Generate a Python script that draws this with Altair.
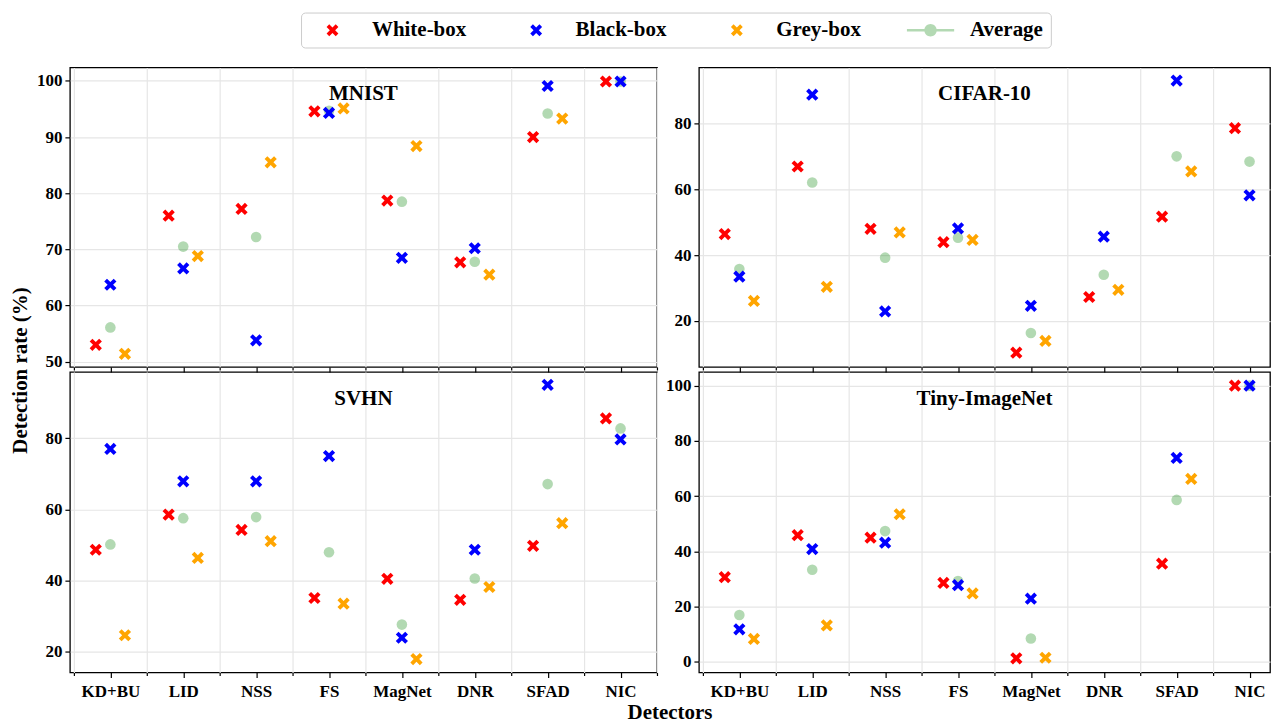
import altair as alt
import pandas as pd

detectors = ["KD+BU", "LID", "NSS", "FS", "MagNet", "DNR", "SFAD", "NIC"]
types = ["White-box", "Black-box", "Grey-box"]

mnist_white = [53.0, 76.0, 77.2, 94.6, 78.7, 67.7, 90.0, 99.9]
mnist_black = [63.7, 66.6, 53.8, 94.3, 68.5, 70.2, 99.1, 99.9]
mnist_grey = [51.4, 68.8, 85.5, 95.1, 88.4, 65.5, 93.3, None]
mnist_avg = [56.1, 70.5, 72.2, 94.7, 78.5, 67.8, 94.2, 99.9]

cifar_white = [46.4, 67.0, 48.0, 43.9, 10.2, 27.2, 51.7, 78.7]
cifar_black = [33.4, 88.9, 22.8, 48.1, 24.5, 45.6, 93.2, 58.2]
cifar_grey = [26.0, 30.3, 46.9, 44.6, 13.8, 29.4, 65.5, None]
cifar_avg = [35.7, 62.1, 39.2, 45.3, 16.2, 34.0, 70.1, 68.5]

svhn_white = [48.6, 58.5, 54.2, 35.0, 40.4, 34.5, 49.7, 85.6]
svhn_black = [77.0, 67.9, 67.9, 75.0, 23.8, 48.6, 95.1, 79.7]
svhn_grey = [24.5, 46.3, 51.0, 33.4, 17.8, 38.1, 56.1, None]
svhn_avg = [50.1, 57.5, 57.8, 47.9, 27.5, 40.5, 67.1, 82.8]

tiny_white = [30.6, 45.8, 44.9, 28.5, 1.2, None, 35.5, 100.0]
tiny_black = [11.7, 40.8, 43.1, 27.7, 22.8, None, 73.8, 100.0]
tiny_grey = [8.2, 13.1, 53.4, 24.7, 1.4, None, 66.2, None]
tiny_avg = [16.9, 33.3, 47.3, 29.2, 8.4, None, 58.6, 100.0]

datasets = {
    "MNIST": (mnist_white, mnist_black, mnist_grey, mnist_avg),
    "CIFAR-10": (cifar_white, cifar_black, cifar_grey, cifar_avg),
    "SVHN": (svhn_white, svhn_black, svhn_grey, svhn_avg),
    "Tiny-ImageNet": (tiny_white, tiny_black, tiny_grey, tiny_avg),
}
y_domains = {
    "MNIST": [49.05, 102.4],
    "CIFAR-10": [5.85, 97.2],
    "SVHN": [14.0, 98.7],
    "Tiny-ImageNet": [-3.95, 104.95],
}
y_ticks = {
    "MNIST": [50, 60, 70, 80, 90, 100],
    "CIFAR-10": [20, 40, 60, 80],
    "SVHN": [20, 40, 60, 80],
    "Tiny-ImageNet": [0, 20, 40, 60, 80, 100],
}
offsets = {"White-box": -0.2, "Black-box": 0.0, "Grey-box": 0.2}

FONT = "Liberation Serif"
XPATH = ("M-1,-0.55L-0.55,-1L0,-0.45L0.55,-1L1,-0.55L0.45,0L1,0.55L0.55,1"
         "L0,0.45L-0.55,1L-1,0.55L-0.45,0Z")
AVGPATH = ("M-4,-0.2H4V0.2H-4Z M1.05,0A1.05,1.05 0 1,1 -1.05,0"
           "A1.05,1.05 0 1,1 1.05,0Z")

legend_domain = types + ["Average"]
color_scale = alt.Scale(domain=legend_domain,
                        range=["#ff0000", "#0000ff", "#ffa500", "#b3d9b3"])
shape_scale = alt.Scale(domain=legend_domain, range=[XPATH, XPATH, XPATH, AVGPATH])

PX_PER_UNIT = 588 / 8.055
X0 = -0.555

label_expr = " : ".join(
    f"datum.value == {i} ? '{d}'" for i, d in enumerate(detectors)) + " : ''"


def make_legend():
    return alt.Legend(
        title=None, orient="none", legendX=231.5, legendY=-55,
        direction="horizontal", columns=4,
        labelFont=FONT, labelFontSize=21, labelFontWeight="bold",
        labelColor="black",
        symbolSize=140, symbolStrokeWidth=0, symbolOffset=14,
        labelOffset=29, columnPadding=45, padding=7,
        strokeColor="#cccccc", cornerRadius=4, fillColor="white",
        labelLimit=0,
    )


def panel(name, width, height, show_labels, ytitle=False, xtitle=False):
    white, black, grey, avg = datasets[name]
    rows = []
    for t, vals in zip(types, (white, black, grey)):
        for i, v in enumerate(vals):
            if v is not None:
                rows.append({"type": t, "x": i + offsets[t], "value": v})
    df = pd.DataFrame(rows)
    df_avg = pd.DataFrame([{"x": i, "value": v} for i, v in enumerate(avg) if v is not None])

    xmax = X0 + width / PX_PER_UNIT
    xvals = [v / 2 for v in range(-1, 16) if v / 2 <= xmax + 1e-6]
    xaxis_kw = dict(
        values=xvals, grid=True, domain=False,
        gridColor="#e6e6e6", gridWidth=1.2,
        gridOpacity={"condition": {"test": "datum.value % 1 == 0", "value": 0}, "value": 1},
        tickSize={"condition": {"test": "datum.value % 1 == 0", "value": 5}, "value": 3},
        tickColor="black", tickWidth=1.2,
        labels=show_labels, labelExpr=label_expr, labelOverlap=False,
        labelFont=FONT, labelFontSize=17, labelFontWeight="bold", labelColor="black",
        labelPadding=6,
    )
    if xtitle:
        xaxis_kw.update(title="Detectors", titleX=600.5, titleY=40,
                        titleFont=FONT, titleFontSize=21, titleFontWeight="bold",
                        titleAlign="center", titleBaseline="middle", titleColor="black")
    else:
        xaxis_kw.update(title=None)
    yaxis_kw = dict(
        values=y_ticks[name], grid=True, domain=False,
        gridColor="#e6e6e6", gridWidth=1.2,
        tickSize=5, tickColor="black", tickWidth=1.2,
        labelFont=FONT, labelFontSize=17, labelFontWeight="bold", labelColor="black",
        labelPadding=3,
    )
    if ytitle:
        yaxis_kw.update(title="Detection rate (%)", titleX=-49.5, titleY=303,
                        titleAngle=270, titleFont=FONT, titleFontSize=21,
                        titleFontWeight="bold", titleAlign="center",
                        titleBaseline="middle", titleColor="black")
    else:
        yaxis_kw.update(title=None)

    xscale = alt.Scale(domain=[X0, xmax], nice=False, zero=False)
    yscale = alt.Scale(domain=y_domains[name], nice=False, zero=False)

    avg_layer = alt.Chart(df_avg).mark_circle(size=113, color="green", opacity=0.3).encode(
        x=alt.X("x:Q", scale=xscale, axis=alt.Axis(**xaxis_kw)),
        y=alt.Y("value:Q", scale=yscale, axis=alt.Axis(**yaxis_kw)),
    )
    pts = alt.Chart(df).mark_point(filled=True, size=150, opacity=1, strokeWidth=0).encode(
        x=alt.X("x:Q", scale=xscale, axis=alt.Axis(**xaxis_kw)),
        y=alt.Y("value:Q", scale=yscale, axis=alt.Axis(**yaxis_kw)),
        color=alt.Color("type:N", scale=color_scale, legend=make_legend()),
        shape=alt.Shape("type:N", scale=shape_scale, legend=make_legend()),
    )
    title = alt.Chart(pd.DataFrame({"name": [name]})).mark_text(
        font=FONT, fontSize=21, fontWeight="bold", color="black", baseline="middle"
    ).encode(text="name:N", x=alt.value(width / 2), y=alt.value(27))
    return alt.layer(avg_layer, pts, title).properties(width=width, height=height)


chart = alt.concat(
    panel("MNIST", 588, 300, False, ytitle=True),
    panel("CIFAR-10", 572, 300, False),
    panel("SVHN", 588, 301, True, xtitle=True),
    panel("Tiny-ImageNet", 572, 301, True),
    columns=2, spacing={"row": 5, "column": 42}, bounds="flush",
).properties(
    padding={"left": 0, "top": 3, "right": 0, "bottom": 0},
    background="white",
).configure_view(
    stroke="black", strokeWidth=1.3
)

chart.save("out.html", embed_options={"renderer": "svg", "actions": False})
